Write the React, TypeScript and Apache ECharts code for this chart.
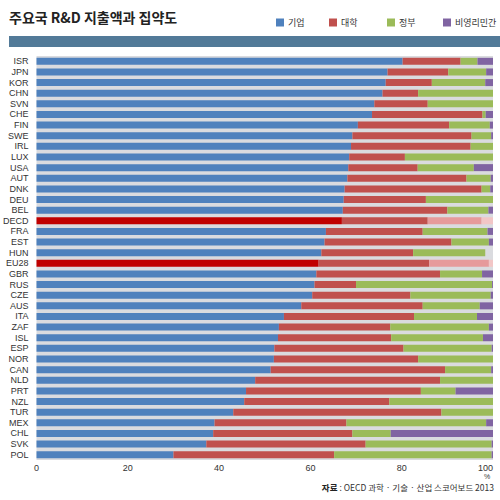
import React, { useEffect, useRef } from "react";
import * as echarts from "echarts";

const countries = ["ISR","JPN","KOR","CHN","SVN","CHE","FIN","SWE","IRL","LUX","USA","AUT","DNK","DEU","BEL","DECD","FRA","EST","HUN","EU28","GBR","RUS","CZE","AUS","ITA","ZAF","ISL","ESP","NOR","CAN","NLD","PRT","NZL","TUR","MEX","CHL","SVK","POL"];
const business = [80.2,76.9,76.5,75.8,74.0,73.5,70.4,69.2,68.9,68.5,68.3,68.1,67.5,67.3,67.1,66.9,63.4,63.1,62.4,61.8,61.3,60.9,60.4,58.0,54.2,53.1,52.9,52.1,52.0,51.3,47.9,45.9,45.5,43.1,39.0,38.7,37.2,30.0];
const university = [12.7,13.3,10.1,7.8,11.7,24.2,20.0,26.1,26.2,12.2,15.2,26.1,30.0,18.0,22.9,18.8,21.2,27.8,20.1,24.2,27.1,9.1,21.5,26.6,28.5,24.4,24.8,28.3,31.6,38.2,40.5,38.3,31.8,45.6,28.9,30.5,34.9,35.2];
const government = [3.7,8.3,11.7,16.4,14.3,0.7,8.9,4.3,4.9,19.3,12.3,5.3,1.9,14.7,9.0,11.8,14.2,8.2,15.8,13.1,9.2,29.8,17.6,12.5,13.8,21.6,20.1,19.3,16.4,10.1,11.6,7.6,22.7,11.3,30.6,8.4,27.6,34.5];
const nonprofit = [3.4,1.5,1.7,0,0,1.6,0.7,0.4,0,0,4.2,0.5,0.6,0,1.0,2.5,1.2,0.9,0,0.9,2.4,0.2,0.5,2.9,3.5,0.9,2.2,0.3,0,0.4,0,8.2,0,0,1.5,22.4,0.3,0.3];
const seriesNames = ["기업", "대학", "정부", "비영리민간"];
const highlighted = ["DECD", "EU28"];

const colors = ["#4f81bd", "#c0504d", "#9bbb59", "#8064a2"];
const hiColors = ["#c00000", "#c0504d", "#e69a9b", "#f2c6c6"];

export default function App() {
  const ref = useRef<HTMLDivElement>(null);
  useEffect(() => {
    if (!ref.current) return;
    const chart = echarts.init(ref.current, null, { renderer: "svg" });
    const values = [business, university, government, nonprofit];
    const legendLefts = [271, 324, 382, 438];
    const option: any = {
      animation: false,
      backgroundColor: "#ffffff",
      textStyle: { fontFamily: "Liberation Sans, Arial, sans-serif" },
      legend: seriesNames.map((n, i) => ({
        data: [n],
        left: legendLefts[i],
        top: 13,
        icon: "rect",
        itemWidth: 8,
        itemHeight: 8,
        itemGap: 4,
        textStyle: { fontSize: 9, color: "#333", fontFamily: "Noto Sans CJK KR", padding: [0, 0, 0, -1] },
        selectedMode: false,
      })),
      grid: {
        left: 35,
        right: 7,
        top: 56,
        bottom: 40,
        show: true,
        backgroundColor: "#dadbdf",
        borderWidth: 0,
      },
      xAxis: {
        type: "value",
        min: 0,
        max: 100,
        interval: 20,
        axisLine: { show: false },
        axisTick: { show: false },
        splitLine: { show: false },
        axisLabel: {
          fontSize: 9,
          color: "#333",
          margin: 3,
          alignMaxLabel: "right",
        },
      },
      yAxis: {
        type: "category",
        data: countries,
        inverse: true,
        axisLine: { show: false },
        axisTick: { show: false },
        axisLabel: { fontSize: 9, color: "#333", margin: 8, interval: 0 },
      },
      series: seriesNames.map((n, si) => ({
        name: n,
        type: "bar",
        stack: "total",
        barWidth: 7,
        itemStyle: { color: colors[si] },
        data: values[si].map((v, ci) =>
          highlighted.includes(countries[ci])
            ? { value: v, itemStyle: { color: hiColors[si] } }
            : v
        ),
      })),
      graphic: [
        {
          type: "text",
          left: 9,
          top: 10,
          style: {
            text: "주요국 R&D 지출액과 집약도",
            fontSize: 14,
            fontWeight: "bold",
            fontFamily: "Noto Sans CJK KR",
            fill: "#222",
          },
        },
        {
          type: "rect",
          shape: { x: 9, y: 36, width: 491, height: 11 },
          style: { fill: "#527a98" },
        },
        {
          type: "text",
          x: 487,
          y: 473,
          style: {
            text: "%",
            fontSize: 7,
            fontFamily: "Liberation Sans, Arial, sans-serif",
            fill: "#333",
            align: "center",
            verticalAlign: "top",
          },
        },
        {
          type: "text",
          right: 6,
          top: 483,
          style: {
            text: "{b|자료} : OECD 과학 · 기술 · 산업 스코어보드 2013",
            fontSize: 8.5,
            fontFamily: "Noto Sans CJK KR",
            fill: "#333",
            rich: {
              b: { fontWeight: "bold", fontSize: 8.5, fontFamily: "Noto Sans CJK KR", fill: "#222" },
            },
          },
        },
      ],
    };
    chart.setOption(option);
    return () => chart.dispose();
  }, []);
  return (
    <div
      ref={ref}
      style={{ position: "fixed", left: 0, top: 0, width: 500, height: 500, background: "#fff" }}
    />
  );
}
